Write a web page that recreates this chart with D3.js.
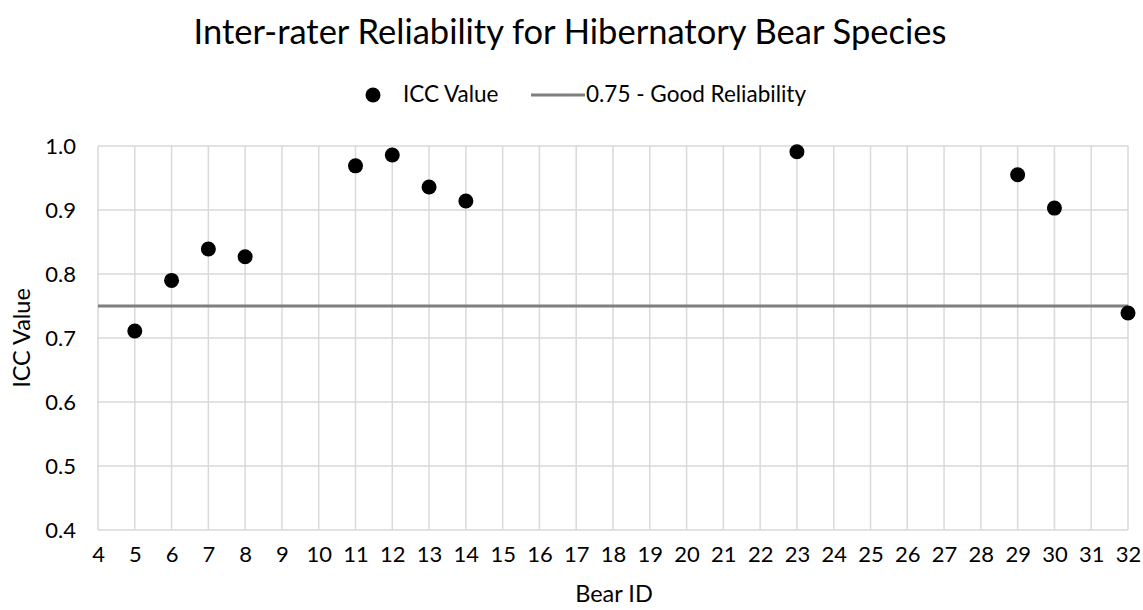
<!DOCTYPE html>
<html><head><meta charset="utf-8">
<script src="https://cdn.jsdelivr.net/npm/d3@7"></script>
<style>body{margin:0;background:#fff;} text{font-family:Lato,sans-serif;fill:#000;}</style>
</head><body>
<svg id="c" width="1143" height="610"></svg>
<script>
const bearIds = [5, 6, 7, 8, 11, 12, 13, 14, 23, 29, 30, 32];
const iccValues = [0.711, 0.790, 0.839, 0.827, 0.969, 0.986, 0.936, 0.914, 0.991, 0.955, 0.903, 0.739];
const threshold = 0.75;
const xTicks = d3.range(4, 33);
const yTicks = [0.4, 0.5, 0.6, 0.7, 0.8, 0.9, 1.0];

const svg = d3.select("#c");
const L = 98, R = 1128, T = 146, B = 530;
const x = d3.scaleLinear().domain([4, 32]).range([L, R]);
const y = d3.scaleLinear().domain([0.4, 1.0]).range([B, T]);
const FONT = "Lato";

// grid
svg.append("g").selectAll("line").data(xTicks).join("line")
  .attr("x1", d => x(d)).attr("x2", d => x(d)).attr("y1", T).attr("y2", B)
  .attr("stroke", "#d9d9d9").attr("stroke-width", 1.5);
svg.append("g").selectAll("line").data(yTicks).join("line")
  .attr("x1", L).attr("x2", R).attr("y1", d => y(d)).attr("y2", d => y(d))
  .attr("stroke", "#d9d9d9").attr("stroke-width", 1.5);

// axes labels
const xAxis = d3.axisBottom(x).tickValues(xTicks).tickSize(0).tickPadding(16).tickFormat(d3.format("d"));
const gx = svg.append("g").attr("transform", `translate(0,${B})`).call(xAxis);
gx.select(".domain").remove();
gx.selectAll("text").style("font-size", "22px").style("font-family", FONT).attr("fill", "#000");
const yAxis = d3.axisLeft(y).tickValues(yTicks).tickSize(0).tickPadding(22).tickFormat(d3.format(".1f"));
const gy = svg.append("g").attr("transform", `translate(${L},0)`).call(yAxis);
gy.select(".domain").remove();
gy.selectAll("text").style("font-size", "22px").style("font-family", FONT).attr("fill", "#000");

// threshold line
svg.append("line").attr("x1", L).attr("x2", R).attr("y1", y(threshold)).attr("y2", y(threshold))
  .attr("stroke", "#7f7f7f").attr("stroke-width", 3);

// points
svg.append("g").selectAll("circle").data(bearIds.map((b, i) => [b, iccValues[i]])).join("circle")
  .attr("cx", d => x(d[0])).attr("cy", d => y(d[1])).attr("r", 7.5).attr("fill", "#000");

// title
svg.append("text").attr("x", 570).attr("y", 44).attr("text-anchor", "middle")
  .style("font-size", "34.5px").text("Inter-rater Reliability for Hibernatory Bear Species");

// legend
svg.append("circle").attr("cx", 373).attr("cy", 95).attr("r", 7.5).attr("fill", "#000");
svg.append("text").attr("x", 403).attr("y", 102).style("font-size", "22.5px").text("ICC Value");
svg.append("line").attr("x1", 531).attr("x2", 585).attr("y1", 95).attr("y2", 95)
  .attr("stroke", "#7f7f7f").attr("stroke-width", 3);
svg.append("text").attr("x", 586).attr("y", 102).style("font-size", "22.5px").text("0.75 - Good Reliability");

// axis titles
svg.append("text").attr("x", 614).attr("y", 602).attr("text-anchor", "middle")
  .style("font-size", "23.5px").text("Bear ID");
svg.append("text").attr("transform", "translate(30,338) rotate(-90)").attr("text-anchor", "middle")
  .style("font-size", "23.5px").text("ICC Value");
</script>
</body></html>
